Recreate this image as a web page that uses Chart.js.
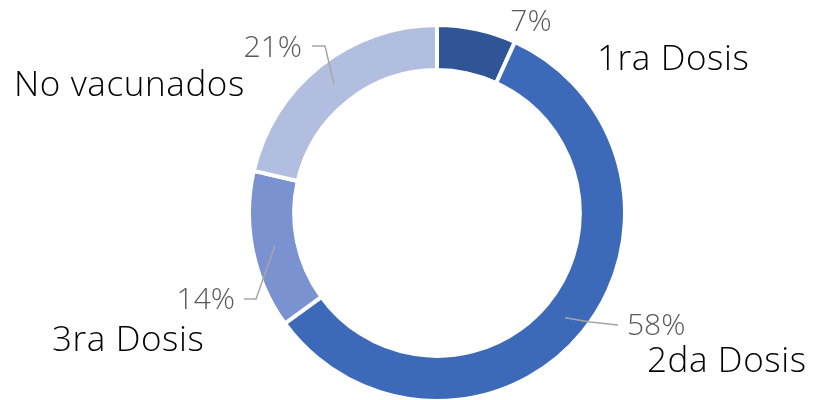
<!DOCTYPE html>
<html>
<head>
<meta charset="utf-8">
<script src="https://cdn.jsdelivr.net/npm/chart.js@4"></script>
<style>
  html, body { margin: 0; padding: 0; background: #fff; overflow: hidden; }
  #wrap { width: 814px; height: 400px; overflow: hidden; }
</style>
</head>
<body>
<div id="wrap"><canvas id="dosisChart" width="814" height="430"></canvas></div>
<script>
// Datos del gráfico
const categorias = ['1ra Dosis', '2da Dosis', '3ra Dosis', 'No vacunados'];
const porcentajes = [6.8, 58.2, 13.6, 21.4];
const colores = ['#2F5597', '#3D6AB8', '#7A93D0', '#B2BEE0'];

// Posición de las etiquetas (pct = porcentaje, nom = nombre, guia = línea guía)
const etiquetas = [
    { pct: [531, 22, 'center'], nom: [597, 60, 'left'], guia: null },
    { pct: [627, 326, 'left'], nom: [647, 362, 'left'], guia: [[590, 322], [618, 325]] },
    { pct: [235, 300, 'right'], nom: [52, 341, 'left'], guia: [[256, 299], [244, 299]] },
    { pct: [302, 48, 'right'], nom: [14, 86, 'left'], guia: [[325, 46], [312, 46]] }
];

const FUENTE = '"Open Sans", "Noto Sans", sans-serif';

const pluginEtiquetas = {
    id: 'etiquetas',
    afterDraw(chart) {
        const ctx = chart.ctx;
        const arcos = chart.getDatasetMeta(0).data;
        ctx.save();
        arcos.forEach((arc, i) => {
            const e = etiquetas[i];
            // Línea guía desde el centro del anillo
            if (e.guia) {
                const p = arc.getProps(['x', 'y', 'startAngle', 'endAngle', 'innerRadius', 'outerRadius'], true);
                const ang = (p.startAngle + p.endAngle) / 2;
                const r = (p.innerRadius + p.outerRadius) / 2;
                ctx.beginPath();
                ctx.moveTo(p.x + r * Math.cos(ang), p.y + r * Math.sin(ang));
                e.guia.forEach(pt => ctx.lineTo(pt[0], pt[1]));
                ctx.strokeStyle = '#A6A6A6';
                ctx.lineWidth = 1.5;
                ctx.stroke();
            }
            ctx.textBaseline = 'middle';
            // Porcentaje (redondeado)
            ctx.font = '300 30px ' + FUENTE;
            ctx.fillStyle = '#595959';
            ctx.textAlign = e.pct[2];
            ctx.letterSpacing = '0px';
            ctx.fillText(Math.round(porcentajes[i]) + '%', e.pct[0], e.pct[1]);
            // Nombre
            ctx.font = '300 35px ' + FUENTE;
            ctx.fillStyle = '#000000';
            ctx.textAlign = e.nom[2];
            ctx.letterSpacing = '0.6px';
            ctx.fillText(categorias[i], e.nom[0], e.nom[1]);
        });
        ctx.restore();
    }
};

new Chart(document.getElementById('dosisChart').getContext('2d'), {
    type: 'doughnut',
    data: {
        labels: categorias,
        datasets: [{
            data: porcentajes,
            backgroundColor: colores,
            borderColor: '#ffffff',
            borderWidth: 4
        }]
    },
    options: {
        responsive: false,
        animation: false,
        cutout: '76%',
        layout: { padding: { left: 60, right: 0, top: 23, bottom: 27 } },
        plugins: {
            legend: { display: false },
            tooltip: { enabled: false }
        }
    },
    plugins: [pluginEtiquetas]
});
</script>
</body>
</html>
